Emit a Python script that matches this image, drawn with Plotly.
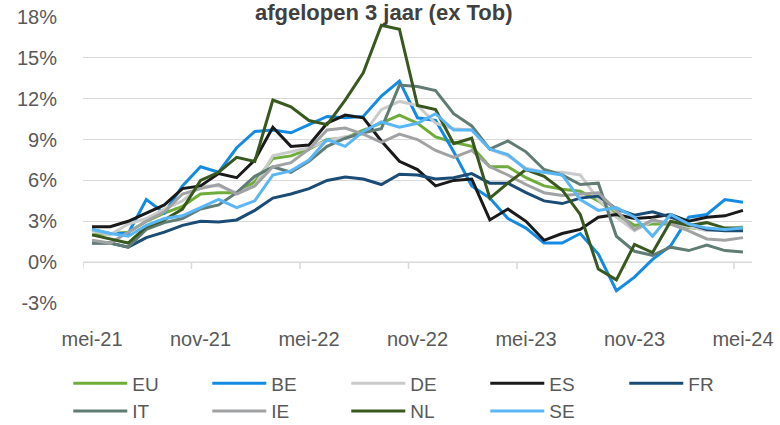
import plotly.graph_objects as go

months = ["mei-21", "jun-21", "jul-21", "aug-21", "sep-21", "okt-21", "nov-21", "dec-21",
          "jan-22", "feb-22", "mrt-22", "apr-22", "mei-22", "jun-22", "jul-22", "aug-22",
          "sep-22", "okt-22", "nov-22", "dec-22", "jan-23", "feb-23", "mrt-23", "apr-23",
          "mei-23", "jun-23", "jul-23", "aug-23", "sep-23", "okt-23", "nov-23", "dec-23",
          "jan-24", "feb-24", "mrt-24", "apr-24", "mei-24"]
tick_labels = ["mei-21", "nov-21", "mei-22", "nov-22", "mei-23", "nov-23", "mei-24"]
y_ticks = [-3, 0, 3, 6, 9, 12, 15, 18]

EU = [2.0, 2.1, 2.2, 3.0, 3.6, 4.1, 5.0, 5.1, 5.1, 5.9, 7.6, 7.8, 8.3, 9.0, 9.1, 9.7, 10.2, 10.8, 10.2, 9.2,
      8.8, 8.5, 7.0, 7.0, 6.2, 5.6, 5.35, 5.2, 4.5, 3.5, 2.7, 2.8, 2.8, 2.55, 2.4, 2.4, 2.4]
BE = [2.4, 2.1, 2.1, 4.6, 3.6, 5.6, 7.0, 6.6, 8.4, 9.6, 9.7, 9.5, 10.1, 10.7, 10.6, 10.7, 12.2, 13.3, 10.6, 10.4,
      8.1, 5.6, 4.7, 3.2, 2.5, 1.4, 1.4, 2.1, 0.6, -2.1, -1.1, 0.2, 1.2, 3.3, 3.5, 4.6, 4.4]
DE = [2.3, 2.0, 2.8, 3.2, 3.9, 4.5, 5.6, 5.6, 5.1, 5.6, 7.8, 8.1, 8.4, 8.9, 9.2, 9.4, 11.2, 11.8, 11.5, 10.2,
      9.8, 9.7, 8.3, 7.8, 6.9, 6.6, 6.6, 6.4, 4.6, 3.3, 2.3, 3.0, 2.9, 2.6, 2.3, 2.4, 2.6]
ES = [2.6, 2.6, 3.0, 3.6, 4.2, 5.4, 5.6, 6.5, 6.2, 7.5, 9.9, 8.5, 8.6, 10.2, 10.8, 10.6, 8.9, 7.4, 6.8, 5.6,
      6.0, 6.1, 3.1, 3.9, 3.0, 1.6, 2.1, 2.4, 3.3, 3.5, 3.2, 3.3, 3.5, 3.0, 3.3, 3.4, 3.8]
FR = [1.4, 1.4, 1.1, 1.8, 2.2, 2.7, 3.0, 2.95, 3.1, 3.8, 4.7, 5.0, 5.4, 6.0, 6.25, 6.1, 5.7, 6.45, 6.4, 6.1,
      6.2, 6.5, 5.8, 5.8, 5.1, 4.5, 4.3, 4.7, 4.85, 3.9, 3.45, 3.7, 3.3, 2.8, 2.4, 2.3, 2.3]
IT = [1.4, 1.4, 1.1, 2.4, 2.9, 3.2, 3.9, 4.2, 5.1, 6.3, 7.0, 6.6, 7.4, 8.5, 9.1, 9.5, 9.8, 13.0, 12.9, 12.6,
      10.9, 10.0, 8.3, 8.9, 8.1, 6.8, 6.4, 5.7, 5.8, 1.9, 0.8, 0.5, 1.1, 0.85, 1.25, 0.85, 0.75]
IE = [1.6, 1.4, 2.2, 3.0, 3.7, 5.0, 5.4, 5.7, 5.0, 5.6, 7.0, 7.3, 8.3, 9.7, 9.85, 9.4, 8.8, 9.4, 9.0, 8.2,
      7.7, 8.2, 7.0, 6.4, 5.7, 5.1, 4.9, 5.0, 5.1, 3.8, 2.4, 3.1, 2.8, 2.3, 1.7, 1.6, 1.8]
NL = [2.0, 1.7, 1.4, 2.6, 3.1, 3.9, 6.0, 6.6, 7.7, 7.4, 11.9, 11.4, 10.4, 10.1, 11.9, 13.9, 17.4, 17.1, 11.5, 11.2,
      8.7, 9.1, 4.7, 5.8, 6.8, 6.3, 5.3, 3.5, -0.5, -1.3, 1.3, 0.7, 3.0, 2.7, 2.9, 2.5, 2.5]
SE = [2.4, 2.1, 1.9, 2.7, 3.2, 3.4, 4.0, 4.6, 4.0, 4.5, 6.4, 6.7, 7.5, 9.0, 8.5, 9.6, 10.3, 9.9, 10.2, 10.9,
      9.7, 9.7, 8.3, 7.9, 6.8, 6.6, 6.4, 4.6, 3.8, 4.0, 3.3, 1.9, 3.5, 2.8, 2.5, 2.4, 2.5]

series = [("EU", EU, "#6FAC3A"), ("BE", BE, "#138BE3"), ("DE", DE, "#C9CBCB"),
          ("ES", ES, "#1A1A1A"), ("FR", FR, "#1B4C76"), ("IT", IT, "#607C74"),
          ("IE", IE, "#A0A2A4"), ("NL", NL, "#38581E"), ("SE", SE, "#5AB6F4")]

FONT = "Liberation Sans"
TXT = "#595959"

fig = go.Figure()
for name, vals, col in series:
    fig.add_trace(go.Scatter(x=months, y=vals, mode="lines", name=name,
                             line=dict(color=col, width=3)))

# x axis line at 0% with tick marks between categories
shapes = [dict(type="line", xref="x", yref="y", x0=-0.5, x1=len(months) - 0.5, y0=0, y1=0,
               line=dict(color="#D9D9D9", width=1.5), layer="below")]
for k in range(0, len(months), 6):
    shapes.append(dict(type="line", xref="x", yref="y", x0=k - 0.5, x1=k - 0.5, y0=0, y1=-0.5,
                       line=dict(color="#D9D9D9", width=1.5), layer="below"))

fig.update_layout(
    width=780, height=425,
    margin=dict(l=83, r=28, t=17, b=122, autoexpand=False),
    paper_bgcolor="white", plot_bgcolor="white",
    font=dict(family=FONT, color=TXT, size=20),
    shapes=shapes,
    xaxis=dict(type="category", range=[-0.5, len(months) - 0.5], tickvals=tick_labels,
               ticktext=tick_labels, showgrid=False, zeroline=False, showline=False,
               ticks="outside", ticklen=18, tickcolor="rgba(0,0,0,0)", automargin=False,
               tickfont=dict(family=FONT, size=20, color=TXT)),
    yaxis=dict(range=[-3, 18], tickvals=y_ticks, ticktext=[f"{v}%" for v in y_ticks],
               showgrid=True, gridcolor="#D9D9D9", gridwidth=1.3, zeroline=False, showline=False,
               ticks="outside", ticklen=21, tickcolor="rgba(0,0,0,0)", automargin=False,
               tickfont=dict(family=FONT, size=20, color=TXT)),
    legend=dict(orientation="h", x=-0.022, xanchor="left", y=-0.215, yanchor="top",
                entrywidth=70, entrywidthmode="pixels", itemwidth=54,
                font=dict(family=FONT, size=19, color=TXT), tracegroupgap=0,
                bgcolor="rgba(0,0,0,0)"),
    showlegend=True,
    annotations=[dict(text="<b>afgelopen 3 jaar (ex Tob)</b>", xref="paper", yref="paper",
                      x=0.45, y=1.016, xanchor="center", yanchor="middle", showarrow=False,
                      font=dict(family=FONT, size=22, color="#404040"))],
)

fig.write_html("out.html", config={"displayModeBar": False},
               post_script="document.body.style.margin='0';")
